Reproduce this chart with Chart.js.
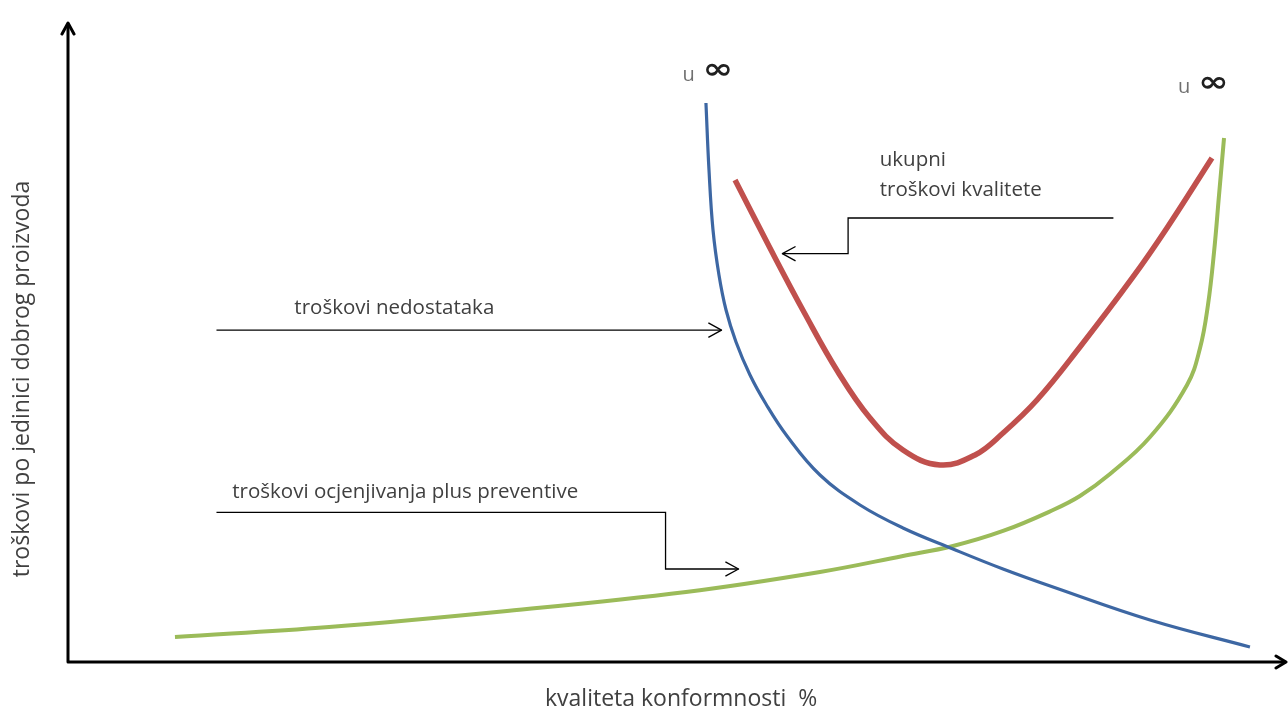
<!DOCTYPE html>
<html>
<head>
<meta charset="utf-8">
<script src="https://cdn.jsdelivr.net/npm/chart.js@4/dist/chart.umd.min.js"></script>
<style>
  html, body { margin: 0; padding: 0; background: #fff; }
  #wrap { width: 1288px; height: 711px; }
</style>
</head>
<body>
<div id="wrap"><canvas id="chart"></canvas></div>
<script>
// Curves (x = kvaliteta konformnosti %, y = relative costs 0..100)
const failureX = [52.42, 52.67, 53.00, 53.49, 54.07, 54.89, 56.04, 57.35, 59.08, 61.79, 65.08, 68.61, 72.72, 76.83, 80.94, 88.91, 97.12];
const failureY = [87.76, 77.24, 67.82, 60.75, 55.26, 50.24, 45.05, 40.50, 35.48, 29.36, 24.65, 21.04, 17.74, 14.60, 11.77, 6.59, 2.35];

const appraisalX = [8.79, 21.45, 36.07, 50.78, 61.79, 68.61, 72.72, 76.83, 80.94, 83.15, 85.62, 88.91, 91.95, 93.02, 93.67, 94.17, 94.58, 94.99];
const appraisalY = [3.92, 5.49, 8.01, 10.99, 14.13, 16.64, 18.21, 20.57, 23.86, 26.06, 29.51, 35.32, 43.49, 49.29, 56.04, 64.36, 73.31, 82.26];

const totalX = [54.81, 57.68, 60.56, 63.27, 65.90, 68.61, 71.65, 74.53, 76.83, 79.62, 83.15, 87.51, 90.30, 94.00];
const totalY = [75.67, 64.99, 54.63, 45.53, 38.30, 33.28, 30.93, 32.50, 35.95, 41.13, 49.45, 60.44, 68.13, 79.12];

// Pointer lines (label -> curve)
const failurePtrX = [12.2, 53.7];
const failurePtrY = [52.1, 52.1];
const appraisalPtrX = [12.2, 49.1, 49.1, 55.1];
const appraisalPtrY = [23.5, 23.5, 14.6, 14.6];
const totalPtrX = [85.9, 64.1, 64.1, 58.7];
const totalPtrY = [69.7, 69.7, 64.1, 64.1];

// Text labels
const labelText = ['troškovi nedostataka', 'troškovi ocjenjivanja plus preventive', 'ukupni', 'troškovi kvalitete'];
const labelX = [18.6, 13.5, 66.7, 66.7];
const labelY = [55.6, 26.7, 78.8, 74.1];
const infinityX = [50.5, 91.2];
const infinityY = [92.3, 90.3];

const xTitle = 'kvaliteta konformnosti  %';
const yTitle = 'troškovi po jedinici dobrog proizvoda';

const textColor = '#404040';
const fontFamily = '"Open Sans", "Noto Sans", sans-serif';

function toPoints(xs, ys) {
  return xs.map((x, i) => ({ x: x, y: ys[i] }));
}

function curve(xs, ys, color, width) {
  return {
    data: toPoints(xs, ys),
    borderColor: color,
    borderWidth: width,
    pointRadius: 0,
    tension: 0.4
  };
}

function pointer(xs, ys) {
  return {
    data: toPoints(xs, ys),
    borderColor: '#000',
    borderWidth: 1.3,
    pointRadius: 0,
    tension: 0,
    arrow: true
  };
}

// draws axes, arrows and text
const decorPlugin = {
  id: 'decor',
  afterDatasetsDraw(chart) {
    const ctx = chart.ctx;
    const xs = chart.scales.x, ys = chart.scales.y;
    const x0 = xs.getPixelForValue(0), y0 = ys.getPixelForValue(0);
    const x1 = xs.getPixelForValue(100), y1 = ys.getPixelForValue(100);

    ctx.save();
    ctx.strokeStyle = '#000';
    ctx.lineCap = 'round';
    ctx.lineJoin = 'round';
    ctx.lineWidth = 3;
    ctx.beginPath();
    ctx.moveTo(x0, y1);
    ctx.lineTo(x0, y0);
    ctx.lineTo(x1, y0);
    ctx.stroke();
    // axis arrowheads
    ctx.beginPath();
    ctx.moveTo(x0 - 6, y1 + 9); ctx.lineTo(x0, y1 - 2); ctx.lineTo(x0 + 6, y1 + 9);
    ctx.moveTo(x1 - 9, y0 - 6); ctx.lineTo(x1 + 1, y0); ctx.lineTo(x1 - 9, y0 + 6);
    ctx.stroke();

    // pointer arrowheads
    ctx.lineWidth = 1.3;
    ctx.lineCap = 'butt';
    chart.data.datasets.forEach((ds, i) => {
      if (!ds.arrow) return;
      const pts = chart.getDatasetMeta(i).data;
      const a = pts[pts.length - 2], b = pts[pts.length - 1];
      const ang = Math.atan2(b.y - a.y, b.x - a.x);
      const len = 15, spread = 0.5;
      ctx.beginPath();
      ctx.moveTo(b.x - len * Math.cos(ang - spread), b.y - len * Math.sin(ang - spread));
      ctx.lineTo(b.x, b.y);
      ctx.lineTo(b.x - len * Math.cos(ang + spread), b.y - len * Math.sin(ang + spread));
      ctx.stroke();
    });

    // labels
    ctx.fillStyle = textColor;
    ctx.textBaseline = 'middle';
    ctx.textAlign = 'left';
    ctx.font = '20.5px ' + fontFamily;
    labelText.forEach((t, i) => {
      ctx.fillText(t, xs.getPixelForValue(labelX[i]), ys.getPixelForValue(labelY[i]));
    });

    // "u ∞"
    infinityX.forEach((v, i) => {
      const px = xs.getPixelForValue(v), py = ys.getPixelForValue(infinityY[i]);
      ctx.fillStyle = '#707070';
      ctx.font = '20px ' + fontFamily;
      ctx.fillText('u', px, py + 1);
      ctx.save();
      ctx.translate(px + 20, py - 3);
      ctx.scale(1.3, 1);
      ctx.fillStyle = '#202020';
      ctx.font = 'bold 28px "DejaVu Sans", sans-serif';
      ctx.fillText('∞', 0, 0);
      ctx.restore();
    });

    // axis titles
    ctx.fillStyle = textColor;
    ctx.font = '23px ' + fontFamily;
    ctx.textAlign = 'left';
    ctx.fillText(xTitle, 545, 699);
    ctx.save();
    ctx.translate(22, 379);
    ctx.rotate(-Math.PI / 2);
    ctx.textAlign = 'center';
    ctx.fillText(yTitle, 0, 0);
    ctx.restore();
    ctx.restore();
  }
};

new Chart(document.getElementById('chart'), {
  type: 'line',
  data: {
    datasets: [
      curve(failureX, failureY, '#3d67a3', 3.2),
      curve(appraisalX, appraisalY, '#9bbb59', 4),
      curve(totalX, totalY, '#c0504d', 5.5),
      pointer(failurePtrX, failurePtrY),
      pointer(appraisalPtrX, appraisalPtrY),
      pointer(totalPtrX, totalPtrY)
    ]
  },
  options: {
    responsive: true,
    maintainAspectRatio: false,
    animation: false,
    layout: { padding: { left: 68, right: 3, top: 25, bottom: 49 } },
    plugins: { legend: { display: false }, tooltip: { enabled: false } },
    scales: {
      x: { type: 'linear', min: 0, max: 100, display: false },
      y: { type: 'linear', min: 0, max: 100, display: false }
    }
  },
  plugins: [decorPlugin]
});
</script>
</body>
</html>
